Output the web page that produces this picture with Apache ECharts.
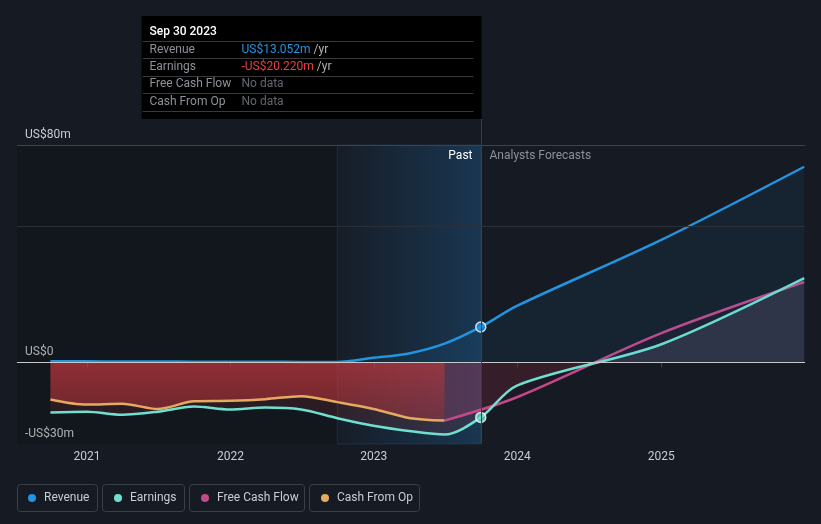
<!DOCTYPE html>
<html><head><meta charset="utf-8">
<script src="https://cdn.jsdelivr.net/npm/echarts@6/dist/echarts.min.js"></script>
<style>html,body{margin:0;padding:0;background:#161a22;}#c{width:821px;height:524px;}</style>
</head><body><div id="c"></div>
<script>
// ---- data ----
const pastDates = ['2020-09-30','2020-12-31','2021-03-31','2021-06-30','2021-09-30','2021-12-31','2022-03-31','2022-06-30','2022-09-30','2022-12-31','2023-03-31','2023-06-30','2023-09-30'];
const revenuePast = [0.4,0.4,0.35,0.35,0.3,0.3,0.25,0.2,0.2,1.7,3.3,6.9,13.052];
const earningsPast = [-18.4,-18.1,-19.2,-18.1,-16.2,-17.3,-16.6,-17.3,-20.5,-23.3,-25.2,-26.5,-20.22];
const cfoDates = ['2020-09-30','2020-12-31','2021-03-31','2021-06-30','2021-09-30','2021-12-31','2022-03-31','2022-06-30','2022-09-30','2022-12-31','2023-03-31','2023-06-30'];
const cashFromOp = [-13.6,-15.5,-15.2,-17.1,-14.3,-14.1,-13.5,-12.4,-14.6,-17.1,-20.4,-21.4];
const forecastDates = ['2023-12-31','2024-12-31','2025-12-31'];
const revenueForecast = [20.8,45,72];
const earningsForecast = [-8.5,6.6,31];
const fcfDates = ['2023-06-30','2023-12-31','2024-12-31','2025-12-31'];
const freeCashFlow = [-21.4,-12.8,10.7,29.6];
const yearTicks = ['2021-01-01','2022-01-01','2023-01-01','2024-01-01','2025-01-01'];
const yLabelValues = [-30,0,80];
const gridValues = [80,50];
const axisRangeX = ['2020-07-07','2026-01-02'];
const axisRangeY = [-30,80];
const nowDate = '2023-09-30';
const highlightStart = '2022-09-30';
const legendNames = ['Revenue','Earnings','Free Cash Flow','Cash From Op'];

// ---- helpers ----
const ts = d => new Date(d + 'T00:00:00Z').getTime();
const zip = (ds, vs) => ds.map((d, i) => [ts(d), vs[i]]);
const MONTHS = ['Jan','Feb','Mar','Apr','May','Jun','Jul','Aug','Sep','Oct','Nov','Dec'];
const fmtDate = d => { const t = new Date(d + 'T00:00:00Z'); return MONTHS[t.getUTCMonth()] + ' ' + t.getUTCDate() + ' ' + t.getUTCFullYear(); };
const fmtMoney = v => (v < 0 ? '-' : '') + 'US$' + Math.abs(v).toFixed(3) + 'm';
const FONT = 'Roboto, "Noto Sans", sans-serif';
const COL = { rev: '#2394df', earn: '#6fe0cf', fcf: '#c4488a', cfo: '#e5aa5e' };
const GRID = { left: 17, right: 16, top: 145, bottom: 80 };

const revenueData = zip(pastDates.concat(forecastDates), revenuePast.concat(revenueForecast));
const earningsData = zip(pastDates.concat(forecastDates), earningsPast.concat(earningsForecast));
const cfoData = zip(cfoDates, cashFromOp);
const fcfData = zip(fcfDates, freeCashFlow);

const chart = echarts.init(document.getElementById('c'), null, { renderer: 'canvas' });

const lineBase = { type: 'line', smooth: 0.3, symbol: 'none', silent: true, lineStyle: { width: 2.5 } };

const legends = legendNames.map((n, i) => ({
  data: [n], left: [28, 114, 201, 321][i], top: 491, padding: 0,
  itemWidth: 8, itemHeight: 8, icon: 'circle', selectedMode: false,
  textStyle: { color: '#c9ccd1', fontSize: 12, fontFamily: FONT, padding: [0, 0, 0, 3], lineHeight: 14 }
}));

chart.setOption({
  backgroundColor: '#161a22',
  animation: false,
  grid: GRID,
  legend: legends,
  xAxis: {
    type: 'value', min: ts(axisRangeX[0]), max: ts(axisRangeX[1]),
    axisLine: { show: true, lineStyle: { color: '#3b404a', width: 1 } },
    axisTick: { show: true, customValues: yearTicks.map(ts), length: 5, lineStyle: { color: '#3b404a' } },
    axisLabel: { customValues: yearTicks.map(ts), formatter: v => String(new Date(v).getUTCFullYear()), color: '#c9ccd1', fontSize: 12, fontFamily: FONT, margin: 7 },
    splitLine: { show: false }
  },
  yAxis: {
    type: 'value', min: axisRangeY[0], max: axisRangeY[1],
    axisLine: { show: false }, axisTick: { show: false }, splitLine: { show: false },
    axisLabel: {
      inside: true, customValues: yLabelValues,
      formatter: v => v === 0 ? 'US$0' : (v < 0 ? '-' : '') + 'US$' + Math.abs(v) + 'm',
      color: '#c9ccd1', fontSize: 12, fontFamily: FONT, align: 'left', verticalAlign: 'bottom', margin: 8, padding: [0, 0, 4, 0]
    }
  },
  series: [
    {
      id: 'bg', name: '_bg', type: 'line', data: revenueData, symbol: 'none', silent: true, z: 1,
      lineStyle: { opacity: 0 },
      markArea: {
        silent: true,
        data: [
          [{ xAxis: ts(axisRangeX[0]), itemStyle: { color: 'rgba(0,0,0,0.14)', borderWidth: 0 } }, { xAxis: ts(highlightStart) }],
          [{ xAxis: ts(highlightStart), itemStyle: {
            color: { type: 'linear', x: 0, y: 0, x2: 1, y2: 0, colorStops: [
              { offset: 0, color: 'rgba(33,120,190,0.03)' }, { offset: 1, color: 'rgba(33,120,190,0.3)' }] },
            borderColor: 'rgba(40,80,115,0.4)', borderWidth: 1 } }, { xAxis: ts(nowDate) }]
        ]
      },
      markLine: {
        silent: true, symbol: ['none', 'none'], label: { show: false },
        data: [
          { yAxis: gridValues[0], lineStyle: { color: '#3d424c', width: 1, type: 'solid' } },
          { yAxis: gridValues[1], lineStyle: { color: '#2a2f38', width: 1, type: 'solid' } },
          { yAxis: 0, lineStyle: { color: '#c8c8c8', width: 1, type: 'solid' } }
        ]
      }
    },
    Object.assign({}, lineBase, {
      id: 'cfo', name: 'Cash From Op', data: cfoData, color: COL.cfo, z: 2,
      areaStyle: { color: { type: 'linear', x: 0, y: 0, x2: 0, y2: 1, colorStops: [
        { offset: 0, color: 'rgba(228,60,66,0.8)' }, { offset: 1, color: 'rgba(220,58,64,0.5)' }] } }
    }),
    Object.assign({}, lineBase, {
      id: 'fcf', name: 'Free Cash Flow', data: fcfData, color: COL.fcf, z: 2,
      areaStyle: { color: 'rgba(0,0,0,0)' }
    }),
    Object.assign({}, lineBase, {
      id: 'earn', name: 'Earnings', data: earningsData, color: COL.earn, z: 2,
      areaStyle: { color: 'rgba(0,0,0,0)' }
    }),
    Object.assign({}, lineBase, {
      id: 'rev', name: 'Revenue', data: revenueData, color: COL.rev, z: 3,
      areaStyle: { color: 'rgba(33,150,243,0.1)' }
    }),
    {
      id: 'dots', name: '_dots', type: 'scatter', silent: true, z: 5, symbolSize: 10,
      data: [
        { value: [ts(nowDate), revenuePast[revenuePast.length - 1]], itemStyle: { color: COL.rev } },
        { value: [ts(nowDate), earningsPast[earningsPast.length - 1]], itemStyle: { color: COL.earn } }
      ],
      itemStyle: { borderColor: '#ffffff', borderWidth: 1.5 }
    }
  ]
});

// ---- second pass: pixel-dependent decorations ----
const px = (x, y) => chart.convertToPixel({ gridIndex: 0 }, [x, y]);
const nowX = Math.round(px(ts(nowDate), 0)[0]) + 0.5;
const zeroY = px(ts(nowDate), 0)[1];
const gTop = GRID.top, gBot = 524 - GRID.bottom, gL = GRID.left, gR = 821 - GRID.right;
const zOff = (zeroY - gTop) / (gBot - gTop);
const nOff = (nowX - gL) / (gR - gL);

const boxW = 340, boxTop = 16, boxBot = 119;
const boxL = nowX - boxW;
const rowY = [49.5, 66.5, 84, 101.5];
const sepY = [41.5, 58.5, 76.5, 93.5, 111.5];
const lastOf = (ds, vs) => { const i = ds.indexOf(nowDate); return i >= 0 ? vs[i] : null; };
const rowVals = [
  { v: lastOf(pastDates, revenuePast), c: COL.rev },
  { v: lastOf(pastDates, earningsPast), c: '#e8403f' },
  { v: lastOf(fcfDates, freeCashFlow), c: COL.fcf },
  { v: lastOf(cfoDates, cashFromOp), c: COL.cfo }
];

const graphics = [
  { type: 'rect', silent: true, shape: { x: boxL, y: boxTop, width: boxW, height: boxBot - boxTop }, style: { fill: '#000000' }, z: 10 },
  { type: 'text', silent: true, x: boxL + 8, y: 32, z: 11, style: { text: fmtDate(nowDate), fill: '#ffffff', font: '500 12px ' + FONT, verticalAlign: 'middle' } },
  { type: 'line', silent: true, z: 9, shape: { x1: nowX, y1: boxBot, x2: nowX, y2: gBot }, style: { stroke: '#21475f', lineWidth: 1 } },
  { type: 'text', silent: true, x: nowX - 9, y: 156, z: 11, style: { text: 'Past', fill: '#ffffff', font: '12px ' + FONT, align: 'right', verticalAlign: 'middle' } },
  { type: 'text', silent: true, x: nowX + 8, y: 156, z: 11, style: { text: 'Analysts Forecasts', fill: '#8d9199', font: '12px ' + FONT, align: 'left', verticalAlign: 'middle' } }
];
sepY.forEach(y => graphics.push({ type: 'line', silent: true, z: 11, shape: { x1: boxL + 1, y1: y, x2: nowX - 8, y2: y }, style: { stroke: '#3a3a3a', lineWidth: 1 } }));
legendNames.forEach((n, i) => {
  graphics.push({ type: 'text', silent: true, x: boxL + 8, y: rowY[i], z: 11, style: { text: n, fill: '#8d9199', font: '12px ' + FONT, verticalAlign: 'middle' } });
  const r = rowVals[i];
  const txt = r.v === null ? '{n|No data}' : '{v|' + fmtMoney(r.v) + '} {u|/yr}';
  graphics.push({ type: 'text', silent: true, x: boxL + 100, y: rowY[i], z: 11, style: {
    text: txt, font: '12px ' + FONT, verticalAlign: 'middle',
    rich: { v: { fill: r.c, fontSize: 12, fontFamily: FONT }, u: { fill: '#aeb2b8', fontSize: 12, fontFamily: FONT }, n: { fill: '#62666d', fontSize: 12, fontFamily: FONT } }
  } });
});
const boxX = [17.5, 102.5, 189.5, 309.5], boxWs = [80, 82, 115, 110];
boxX.forEach((x, i) => graphics.push({ type: 'rect', silent: true, z: 1, shape: { x: x, y: 484.5, width: boxWs[i], height: 27, r: 3 }, style: { fill: 'none', stroke: '#3a3f49', lineWidth: 1 } }));

chart.setOption({
  series: [
    { id: 'earn', areaStyle: { color: { type: 'linear', global: true, x: 0, y: gTop, x2: 0, y2: gBot, colorStops: [
      { offset: 0, color: 'rgba(190,210,240,0.16)' }, { offset: zOff, color: 'rgba(190,210,240,0.16)' },
      { offset: zOff, color: 'rgba(200,60,65,0.2)' }, { offset: 1, color: 'rgba(200,60,65,0.2)' }] } } },
    { id: 'fcf', areaStyle: { color: { type: 'linear', global: true, x: gL, y: 0, x2: gR, y2: 0, colorStops: [
      { offset: 0, color: 'rgba(196,74,138,0.3)' }, { offset: nOff, color: 'rgba(196,74,138,0.3)' },
      { offset: nOff, color: 'rgba(60,20,50,0.3)' }, { offset: 1, color: 'rgba(60,20,50,0.3)' }] } } }
  ],
  graphic: graphics
});
</script></body></html>
